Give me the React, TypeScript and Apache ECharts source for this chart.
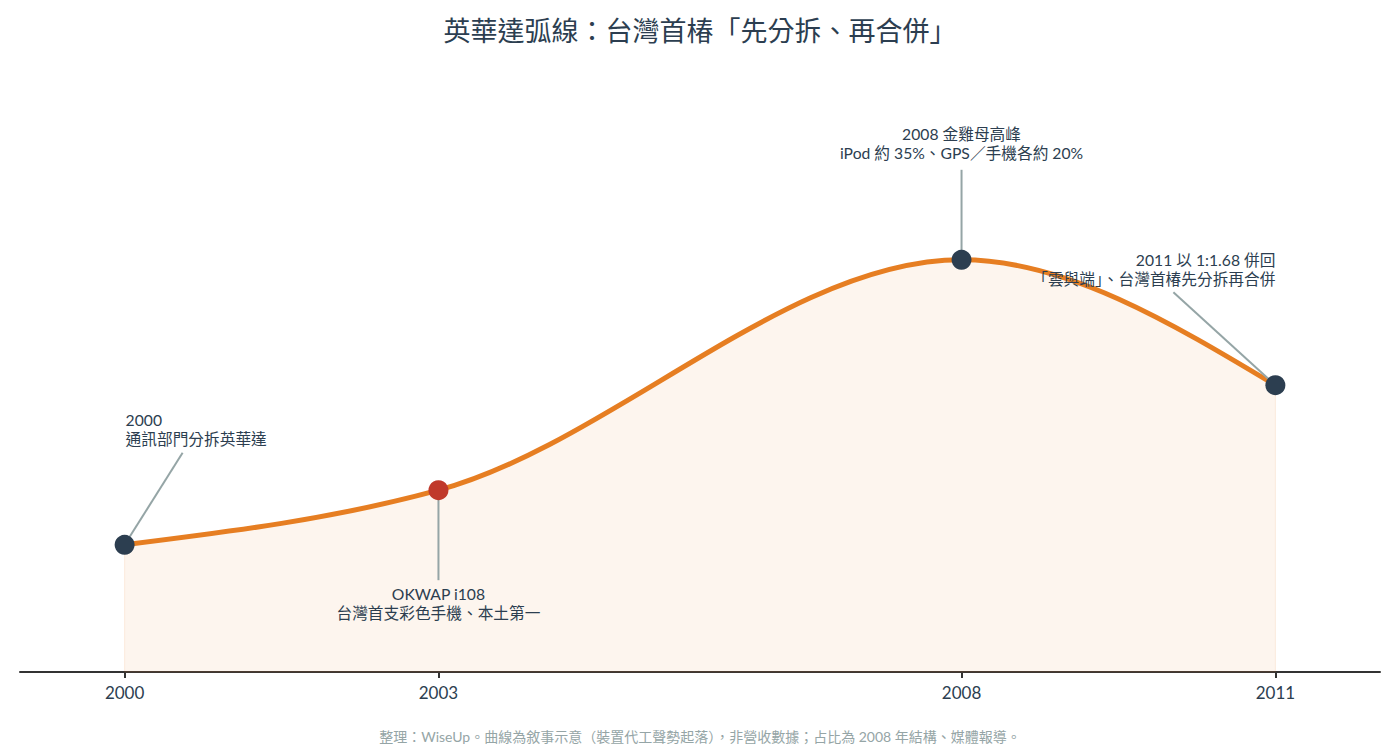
import React, { useEffect, useRef } from "react";
import * as echarts from "echarts";

const years = [2000, 2003, 2008, 2011];
const values = [21.2, 30.3, 68.7, 47.8];
const pointColors = ["#2c3e50", "#c0392b", "#2c3e50", "#2c3e50"];
const tickLabels = [2000, 2003, 2008, 2011];
const notes = [
  "2000\n通訊部門分拆英華達",
  "OKWAP i108\n台灣首支彩色手機、本土第一",
  "2008 金雞母高峰\niPod 約 35%、GPS／手機各約 20%",
  "2011 以 1:1.68 併回\n「雲與端」、台灣首椿先分拆再合併",
];
const titleText = "英華達弧線：台灣首椿「先分拆、再合併」";
const footText = "整理：WiseUp。曲線為敘事示意（裝置代工聲勢起落），非營收數據；占比為 2008 年結構、媒體報導。";

// layout for annotations (offsets from the point in px)
const noteLayout = [
  { lx: 58, ly: -92, tx: 1, ty: -134, align: "left", va: "top" },
  { lx: 0, ly: 90, tx: 0, ty: 94.5, align: "center", va: "top" },
  { lx: 0, ly: -90, tx: 0, ty: -97.5, align: "center", va: "bottom" },
  { lx: -102, ly: -93, tx: 0, ty: -96.5, align: "right", va: "bottom" },
];

const FONT = "Lato, 'Noto Sans CJK TC', sans-serif";

// monotone-x cubic (Fritsch–Carlson, as d3.curveMonotoneX) in pixel space
function monotonePath(pts: number[][]): string {
  const n = pts.length;
  const sgn = (v: number) => (v < 0 ? -1 : 1);
  const slopes: number[] = [];
  const h: number[] = [];
  for (let i = 0; i < n - 1; i++) {
    h.push(pts[i + 1][0] - pts[i][0]);
    slopes.push((pts[i + 1][1] - pts[i][1]) / h[i]);
  }
  const t: number[] = new Array(n).fill(0);
  for (let i = 1; i < n - 1; i++) {
    const s0 = slopes[i - 1], s1 = slopes[i], h0 = h[i - 1], h1 = h[i];
    const p = (s0 * h1 + s1 * h0) / (h0 + h1);
    t[i] = (sgn(s0) + sgn(s1)) * Math.min(Math.abs(s0), Math.abs(s1), 0.5 * Math.abs(p)) || 0;
  }
  t[0] = (3 * slopes[0] - t[1]) / 2;
  t[n - 1] = (3 * slopes[n - 2] - t[n - 2]) / 2;
  let d = `M${pts[0][0]},${pts[0][1]}`;
  for (let i = 0; i < n - 1; i++) {
    const dx = h[i] / 3;
    d += ` C${pts[i][0] + dx},${pts[i][1] + dx * t[i]} ${pts[i + 1][0] - dx},${pts[i + 1][1] - dx * t[i + 1]} ${pts[i + 1][0]},${pts[i + 1][1]}`;
  }
  return d;
}

export default function App() {
  const ref = useRef<HTMLDivElement>(null);
  useEffect(() => {
    if (!ref.current) return;
    const chart = echarts.init(ref.current, undefined, { renderer: "svg" });
    chart.setOption({
      animation: false,
      backgroundColor: "#ffffff",
      title: [
        {
          text: titleText,
          left: "center",
          top: 11,
          textStyle: {
            fontFamily: "'Noto Sans CJK TC', sans-serif",
            fontSize: 27,
            fontWeight: "normal",
            color: "#2c3e50",
          },
        },
        {
          text: footText,
          left: "center",
          bottom: 8,
          textStyle: {
            fontFamily: FONT,
            fontSize: 14,
            fontWeight: "normal",
            color: "#95a5a6",
          },
        },
      ],
      grid: { left: 20, right: 20, top: 72, bottom: 84 },
      xAxis: {
        type: "value",
        min: 1999,
        max: 2012,
        splitLine: { show: false },
        axisLine: { show: true, lineStyle: { color: "#333333", width: 2 } },
        axisTick: {
          show: true,
          customValues: tickLabels,
          length: 6,
          lineStyle: { color: "#333333", width: 2 },
        },
        axisLabel: {
          customValues: tickLabels,
          formatter: (v: number) => String(v),
          fontFamily: FONT,
          fontSize: 17,
          color: "#2c3e50",
          margin: 12,
        },
      },
      yAxis: {
        type: "value",
        min: 0,
        max: 100,
        show: false,
      },
      series: [
        {
          type: "custom",
          data: years.map((y, i) => [y, values[i]]),
          z: 2,
          silent: true,
          renderItem: (params: any, api: any) => {
            if (params.dataIndex !== 0) return null;
            const pts = years.map((y, i) => api.coord([y, values[i]]));
            const base = api.coord([years[0], 0])[1];
            const line = monotonePath(pts);
            const area =
              line +
              ` L${pts[pts.length - 1][0]},${base} L${pts[0][0]},${base} Z`;
            return {
              type: "group",
              children: [
                {
                  type: "path",
                  shape: { pathData: area },
                  style: { fill: "rgba(230,126,34,0.08)", stroke: "rgba(230,126,34,0.12)", lineWidth: 1 },
                },
                {
                  type: "path",
                  shape: { pathData: line },
                  style: { fill: "none", stroke: "#e67e22", lineWidth: 5 },
                },
              ],
            };
          },
        },
        {
          type: "scatter",
          data: years.map((y, i) => ({
            value: [y, values[i]],
            itemStyle: { color: pointColors[i], opacity: 1 },
          })),
          symbol: "circle",
          symbolSize: 20,
          z: 4,
        },
      ],
    });

    const graphics: any[] = [];
    years.forEach((y, i) => {
      const p = chart.convertToPixel({ xAxisIndex: 0, yAxisIndex: 0 }, [y, values[i]]) as number[];
      const L = noteLayout[i];
      graphics.push({
        type: "line",
        shape: { x1: p[0], y1: p[1], x2: p[0] + L.lx, y2: p[1] + L.ly },
        style: { stroke: "#95a5a6", lineWidth: 2 },
        z: 3,
      });
      graphics.push({
        type: "text",
        x: p[0] + L.tx,
        y: p[1] + L.ty,
        style: {
          text: notes[i],
          fill: "#2c3e50",
          font: `15.7px ${FONT}`,
          lineHeight: 19,
          align: L.align,
          verticalAlign: L.va,
        },
        z: 5,
      });
    });
    chart.setOption({ graphic: graphics });

    return () => chart.dispose();
  }, []);
  return (
    <div
      ref={ref}
      style={{ position: "absolute", left: 0, top: 0, width: 1400, height: 756 }}
    />
  );
}
